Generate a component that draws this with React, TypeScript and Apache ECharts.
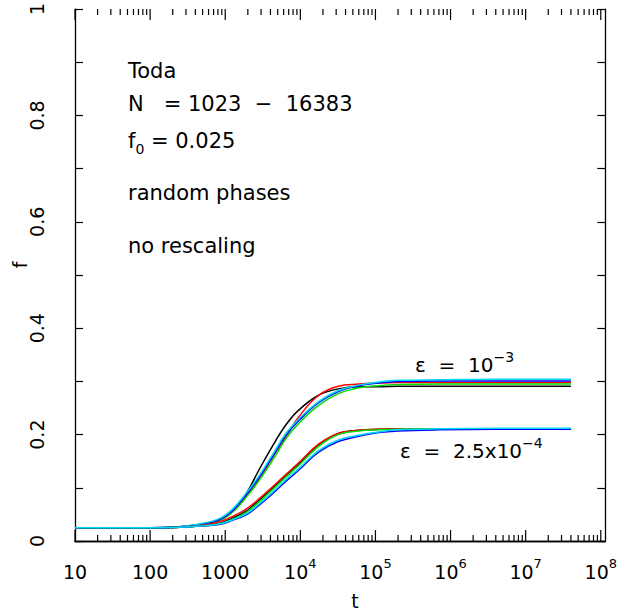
import React, { useEffect, useRef } from "react";
import * as echarts from "echarts";

// time points (t)
const T = [10, 100, 250, 450, 830, 1250, 1900, 2800, 4200, 6400, 9500, 17500, 32000, 60000, 110000, 200000, 700000, 4000000, 40000000];

// epsilon = 1e-3
const blackA = [0.025, 0.025, 0.027, 0.031, 0.040, 0.056, 0.089, 0.133, 0.177, 0.218, 0.246, 0.274, 0.286, 0.290, 0.290, 0.291, 0.291, 0.291, 0.291];
const redA = [0.025, 0.025, 0.026, 0.029, 0.038, 0.056, 0.085, 0.115, 0.156, 0.196, 0.233, 0.274, 0.291, 0.295, 0.297, 0.298, 0.298, 0.298, 0.298];
const greenA = [0.025, 0.025, 0.026, 0.030, 0.038, 0.054, 0.082, 0.113, 0.150, 0.192, 0.221, 0.255, 0.277, 0.288, 0.292, 0.294, 0.295, 0.295, 0.295];
const blueA = [0.025, 0.025, 0.027, 0.031, 0.040, 0.057, 0.087, 0.119, 0.157, 0.198, 0.226, 0.260, 0.281, 0.292, 0.297, 0.300, 0.301, 0.301, 0.301];
const cyanA = [0.025, 0.025, 0.027, 0.032, 0.042, 0.060, 0.090, 0.122, 0.161, 0.202, 0.229, 0.262, 0.283, 0.293, 0.299, 0.302, 0.303, 0.304, 0.304];

// epsilon = 2.5e-4
const blackB = [0.025, 0.025, 0.026, 0.028, 0.033, 0.043, 0.056, 0.076, 0.098, 0.122, 0.144, 0.180, 0.202, 0.208, 0.210, 0.211, 0.211, 0.211, 0.211];
const redB = [0.025, 0.025, 0.026, 0.029, 0.036, 0.046, 0.060, 0.079, 0.101, 0.125, 0.147, 0.182, 0.202, 0.208, 0.210, 0.211, 0.211, 0.211, 0.211];
const greenB = [0.025, 0.025, 0.026, 0.028, 0.032, 0.041, 0.054, 0.073, 0.096, 0.120, 0.142, 0.178, 0.200, 0.207, 0.209, 0.210, 0.211, 0.211, 0.211];
const blueB = [0.025, 0.025, 0.026, 0.028, 0.031, 0.039, 0.049, 0.067, 0.088, 0.112, 0.133, 0.167, 0.187, 0.197, 0.204, 0.207, 0.209, 0.210, 0.210];
const cyanB = [0.025, 0.025, 0.026, 0.028, 0.032, 0.040, 0.051, 0.069, 0.091, 0.115, 0.136, 0.170, 0.190, 0.199, 0.205, 0.209, 0.211, 0.212, 0.212];

// x tick labels by decade exponent: [base, superscript]
const X_TICK_LABELS: Record<number, [string, string]> = {
  1: ["10", ""],
  2: ["100", ""],
  3: ["1000", ""],
  4: ["10", "4"],
  5: ["10", "5"],
  6: ["10", "6"],
  7: ["10", "7"],
  8: ["10", "8"],
};
const DECADES = [10, 100, 1000, 1e4, 1e5, 1e6, 1e7];
const MINOR_MULT = [2, 3, 4, 5, 6, 7, 8, 9];
const X_MIN = 10;
const X_MAX = 1.15e8;

const FONT = "DejaVu Sans";
const COLORS = { black: "#000000", red: "#ff0000", green: "#00dd00", blue: "#0000ff", cyan: "#00d8f2" };

export default function App() {
  const ref = useRef<HTMLDivElement>(null);
  useEffect(() => {
    document.body.style.margin = "0";
    const chart = echarts.init(ref.current!, null, { renderer: "svg" });

    const mk = (name: string, vals: number[], color: string) => ({
      name,
      type: "line",
      data: T.map((t, i) => [t, vals[i]]),
      showSymbol: false,
      symbol: "none",
      smooth: 0.4,
      lineStyle: { color, width: 1.5 },
      silent: true,
    });

    const minorTicks: number[][] = [];
    DECADES.forEach((d) => MINOR_MULT.forEach((m) => minorTicks.push([d * m, 0.5])));
    const majorTicks: number[][] = DECADES.concat([1e8]).map((d) => [d, 0.5]);

    const xLabelFmt = (v: number) => {
      const lg = Math.log10(v);
      const e = Math.round(lg);
      if (Math.abs(lg - e) > 1e-6) return "";
      const lab = X_TICK_LABELS[e];
      if (!lab) return "";
      return lab[1] ? `{b|${lab[0]}}{s|${lab[1]}}` : `{b|${lab[0]}}`;
    };

    const axisLine = { show: true, lineStyle: { color: "#000", width: 1.3 } };
    const richX = {
      b: { fontSize: 19, fontFamily: FONT, color: "#000", lineHeight: 34 },
      s: { fontSize: 13, fontFamily: FONT, color: "#000", lineHeight: 15, padding: [0, 0, 17, 0] },
    };

    const richNote = {
      a: { fontSize: 20, fontFamily: FONT, color: "#000", lineHeight: 36 },
      s: { fontSize: 14, fontFamily: FONT, color: "#000", lineHeight: 16, padding: [0, 0, 16, 0] },
    };

    const txt = (text: string, x: number, y: number, size = 21) => ({
      type: "text",
      x,
      y,
      silent: true,
      style: {
        text,
        fill: "#000",
        font: `${size}px '${FONT}'`,
        fontSize: size,
        fontFamily: FONT,
        align: "left",
        textAlign: "left",
        verticalAlign: "middle",
        textVerticalAlign: "middle",
      },
    });

    const tickSeries = (name: string, data: number[][], len: number) => ({
      name,
      type: "custom",
      silent: true,
      data,
      encode: { x: 0, y: 1 },
      renderItem: (params: any, api: any) => {
        const p = api.coord([api.value(0), api.value(1)]);
        const cs = params.coordSys;
        const top = cs.y;
        const bottom = cs.y + cs.height;
        return {
          type: "group",
          children: [
            { type: "line", shape: { x1: p[0], y1: bottom, x2: p[0], y2: bottom - len }, style: { stroke: "#000", lineWidth: 1.2 } },
            { type: "line", shape: { x1: p[0], y1: top, x2: p[0], y2: top + len }, style: { stroke: "#000", lineWidth: 1.2 } },
          ],
        };
      },
    });

    chart.setOption({
      animation: false,
      backgroundColor: "#fff",
      grid: { left: 75, right: 12, top: 8, bottom: 75, containLabel: false },
      xAxis: [
        {
          type: "log",
          logBase: 10,
          min: X_MIN,
          max: X_MAX,
          position: "bottom",
          axisLine,
          axisTick: { show: false },
          minorTick: { show: false },
          splitLine: { show: false },
          axisLabel: { formatter: xLabelFmt, rich: richX, margin: 14, showMaxLabel: true, showMinLabel: true, interval: 0 },
        },
        {
          type: "log",
          logBase: 10,
          min: X_MIN,
          max: X_MAX,
          position: "top",
          axisLine,
          axisTick: { show: false },
          splitLine: { show: false },
          axisLabel: { show: false },
        },
      ],
      yAxis: [
        {
          type: "value",
          min: 0,
          max: 1,
          interval: 0.1,
          position: "left",
          axisLine,
          axisTick: { show: true, inside: true, length: 8, lineStyle: { color: "#000", width: 1.2 } },
          splitLine: { show: false },
          axisLabel: {
            rotate: 90,
            margin: 29,
            fontSize: 19,
            fontFamily: FONT,
            color: "#000",
            formatter: (v: number) => (Math.round(v * 10) % 2 === 0 ? String(Number(v.toFixed(1))) : ""),
          },
        },
        {
          type: "value",
          min: 0,
          max: 1,
          interval: 0.1,
          position: "right",
          axisLine,
          axisTick: { show: true, inside: true, length: 8, lineStyle: { color: "#000", width: 1.2 } },
          splitLine: { show: false },
          axisLabel: { show: false },
        },
      ],
      series: [
        mk("black A", blackA, COLORS.black),
        mk("red A", redA, COLORS.red),
        mk("green A", greenA, COLORS.green),
        mk("blue A", blueA, COLORS.blue),
        mk("cyan A", cyanA, COLORS.cyan),
        mk("black B", blackB, COLORS.black),
        mk("red B", redB, COLORS.red),
        mk("green B", greenB, COLORS.green),
        mk("blue B", blueB, COLORS.blue),
        mk("cyan B", cyanB, COLORS.cyan),
        tickSeries("minor ticks", minorTicks, 6),
        tickSeries("major ticks", majorTicks, 11),
      ],
      graphic: [
        txt("Toda", 128, 71),
        txt("N   = 1023  −  16383", 128, 104),
        {
          type: "text",
          x: 128,
          y: 141,
          silent: true,
          style: {
            text: "{a|f}{d|0}{a| = 0.025}",
            rich: {
              a: { fontSize: 21, fontFamily: FONT, color: "#000", lineHeight: 36 },
              d: { fontSize: 14, fontFamily: FONT, color: "#000", lineHeight: 16, padding: [16, 0, 0, 0] },
            },
            align: "left",
            textAlign: "left",
            verticalAlign: "middle",
            textVerticalAlign: "middle",
          },
        },
        txt("random phases", 128, 193),
        txt("no rescaling", 128, 246),
        {
          type: "text",
          x: 415,
          y: 365,
          silent: true,
          style: {
            text: "{a|ε  =  10}{s|−3}",
            rich: richNote,
            align: "left",
            textAlign: "left",
            verticalAlign: "middle",
            textVerticalAlign: "middle",
          },
        },
        {
          type: "text",
          x: 400,
          y: 451,
          silent: true,
          style: {
            text: "{a|ε  =  2.5x10}{s|−4}",
            rich: richNote,
            align: "left",
            textAlign: "left",
            verticalAlign: "middle",
            textVerticalAlign: "middle",
          },
        },
        {
          type: "text",
          x: 20,
          y: 265,
          rotation: Math.PI / 2,
          silent: true,
          style: {
            text: "f",
            fill: "#000",
            font: `19px '${FONT}'`,
            align: "center",
            textAlign: "center",
            verticalAlign: "middle",
            textVerticalAlign: "middle",
          },
        },
        {
          type: "text",
          x: 355,
          y: 601,
          silent: true,
          style: {
            text: "t",
            fill: "#000",
            font: `19px '${FONT}'`,
            align: "center",
            textAlign: "center",
            verticalAlign: "middle",
            textVerticalAlign: "middle",
          },
        },
      ],
    });
    return () => chart.dispose();
  }, []);
  return <div ref={ref} style={{ width: 620, height: 616 }} />;
}
